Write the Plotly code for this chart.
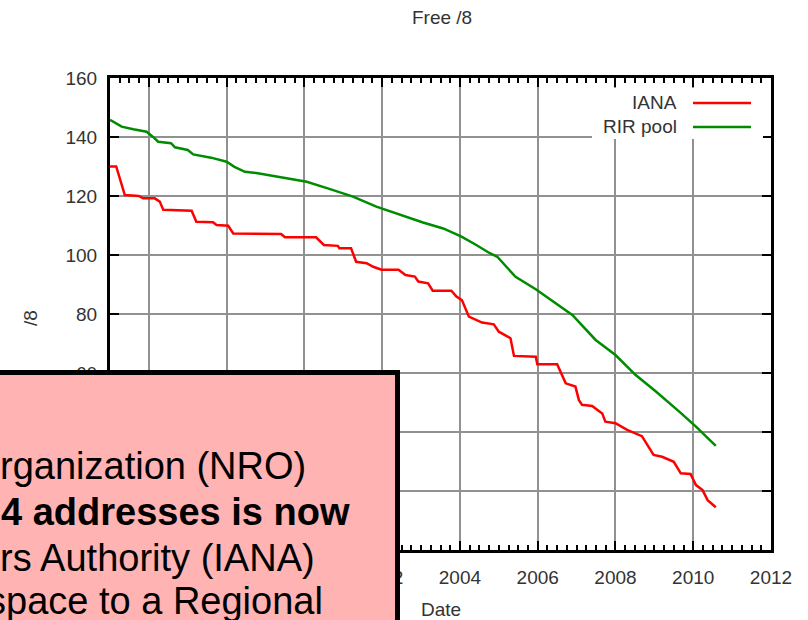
import plotly.graph_objects as go

# ---- data ----
iana_year = [1995.00, 1995.16, 1995.38, 1995.74, 1995.85, 1996.15, 1996.28, 1996.37, 1997.10, 1997.22,
             1997.65, 1997.74, 1998.04, 1998.17, 1999.40, 1999.50, 2000.30, 2000.50, 2000.86, 2000.90,
             2001.20, 2001.33, 2001.60, 2001.77, 2001.98, 2002.42, 2002.60, 2002.84, 2002.93, 2003.18,
             2003.30, 2003.78, 2003.91, 2004.05, 2004.23, 2004.57, 2004.87, 2005.00, 2005.30, 2005.39,
             2005.95, 2005.99, 2006.50, 2006.72, 2006.97, 2007.06, 2007.14, 2007.40, 2007.66, 2007.74,
             2008.00, 2008.30, 2008.68, 2008.98, 2009.20, 2009.50, 2009.68, 2009.93, 2010.07, 2010.24,
             2010.37, 2010.58]
iana_free = [130.0, 130.0, 120.3, 120.0, 119.2, 119.2, 118.1, 115.3, 115.0, 111.3,
             111.1, 110.2, 109.9, 107.3, 107.1, 106.0, 106.0, 103.4, 103.1, 102.3,
             102.3, 97.7, 97.2, 96.0, 95.0, 95.0, 93.2, 92.7, 91.0, 90.4,
             87.9, 87.9, 85.9, 84.7, 79.1, 77.1, 76.5, 74.0, 71.8, 65.8,
             65.5, 63.0, 63.0, 56.5, 55.4, 50.8, 49.2, 48.8, 46.3, 43.5,
             43.0, 40.7, 38.6, 32.2, 31.6, 29.9, 26.0, 25.8, 22.0, 20.3,
             16.9, 14.5]

rir_year = [1995.00, 1995.30, 1995.60, 1995.94, 1996.10, 1996.24, 1996.57, 1996.67, 1997.00, 1997.14,
            1997.60, 1997.80, 1998.00, 1998.20, 1998.47, 1998.80, 1999.24, 1999.67, 2000.06, 2000.60,
            2001.25, 2001.85, 2002.10, 2002.37, 2003.05, 2003.57, 2004.04, 2004.42, 2004.77, 2004.96,
            2005.43, 2005.95, 2006.59, 2006.89, 2007.49, 2008.00, 2008.52, 2009.04, 2009.64, 2010.07,
            2010.58]
rir_free = [145.8, 143.5, 142.6, 141.8, 140.1, 138.4, 137.9, 136.5, 135.6, 134.1,
            133.0, 132.2, 131.6, 129.9, 128.2, 127.7, 126.6, 125.7, 124.8, 122.6,
            119.8, 116.4, 115.3, 113.9, 111.0, 109.0, 106.2, 103.4, 100.6, 99.4,
            92.6, 88.4, 82.3, 79.7, 71.2, 66.1, 59.3, 53.7, 46.9, 41.8,
            35.3]

series_names = ["IANA", "RIR pool"]
series_colors = ["#ff0000", "#008c00"]
x_range = [1995, 2012]
y_range = [0, 160]
x_tickvals = [1996, 1998, 2000, 2002, 2004, 2006, 2008, 2010, 2012]
# labels fully hidden behind the overlay box are left blank
x_ticktext = ["", "", "", "2002", "2004", "2006", "2008", "2010", "2012"]
y_tickvals = [0, 20, 40, 60, 80, 100, 120, 140, 160]
y_ticktext = ["", "", "", "60", "80", "100", "120", "140", "160"]
chart_title = "Free /8"
x_title = "Date"
y_title = "/8"
# visible part of the overlay note
note_lines = [
    "rganization (NRO)",
    "<b>4 addresses is now</b>",
    "rs Authority (IANA)",
    "space to a Regional",
]

# ---- layout helpers (pixel -> paper) ----
W, H = 808, 620
L, R, T, B = 110, 37, 78, 70
PW, PH = W - L - R, H - T - B


def px(x):
    return (x - L) / PW


def py(y):
    return (H - B - y) / PH


FONT = "Liberation Sans, Arial, sans-serif"
tick_font = dict(family=FONT, size=19, color="#333333")

fig = go.Figure()
fig.add_trace(go.Scatter(x=iana_year, y=iana_free, mode="lines", name=series_names[0],
                         line=dict(color=series_colors[0], width=2.5), showlegend=False))
fig.add_trace(go.Scatter(x=rir_year, y=rir_free, mode="lines", name=series_names[1],
                         line=dict(color=series_colors[1], width=2.5), showlegend=False))

fig.update_xaxes(range=x_range, tickmode="array", tickvals=x_tickvals, ticktext=x_ticktext,
                 ticks="inside", ticklen=9, tickwidth=2, tickcolor="black",
                 showline=True, linewidth=3, linecolor="black", mirror="allticks",
                 showgrid=True, gridcolor="#919191", gridwidth=2, zeroline=False,
                 tickfont=tick_font, ticklabelstandoff=8,
                 minor=dict(ticks="inside", ticklen=5, tickwidth=1.5, tickcolor="black",
                            tickmode="linear", tick0=1995, dtick=0.25, showgrid=False))
fig.update_yaxes(range=y_range, tickmode="array", tickvals=y_tickvals, ticktext=y_ticktext,
                 ticks="inside", ticklen=9, tickwidth=2, tickcolor="black",
                 showline=True, linewidth=3, linecolor="black", mirror="allticks",
                 showgrid=True, gridcolor="#919191", gridwidth=2, zeroline=False,
                 tickfont=tick_font, ticklabelstandoff=6)

shapes = [
    # opaque key background
    dict(type="rect", xref="paper", yref="paper", x0=px(592), x1=px(763), y0=py(139), y1=py(88),
         fillcolor="white", line=dict(width=0), layer="above"),
    dict(type="line", xref="paper", yref="paper", x0=px(693), x1=px(751), y0=py(103), y1=py(103),
         line=dict(color=series_colors[0], width=2.5), layer="above"),
    dict(type="line", xref="paper", yref="paper", x0=px(693), x1=px(751), y0=py(127), y1=py(127),
         line=dict(color=series_colors[1], width=2.5), layer="above"),
    # pink overlay box
    dict(type="rect", xref="paper", yref="paper", x0=px(-30), x1=px(397.5), y0=py(650), y1=py(372.5),
         fillcolor="#ffb3b3", line=dict(color="black", width=5), layer="above"),
]

annotations = [
    dict(text=chart_title, x=px(442), y=py(17), xref="paper", yref="paper", showarrow=False,
         xanchor="center", yanchor="middle", font=tick_font),
    dict(text=x_title, x=px(441), y=py(609), xref="paper", yref="paper", showarrow=False,
         xanchor="center", yanchor="middle", font=tick_font),
    dict(text=y_title, x=px(30), y=py(318), xref="paper", yref="paper", showarrow=False,
         xanchor="center", yanchor="middle", textangle=-90, font=tick_font),
    dict(text=series_names[0], x=px(679), y=py(103), xref="paper", yref="paper", showarrow=False,
         xanchor="right", yanchor="middle", font=tick_font),
    dict(text=series_names[1], x=px(679), y=py(127), xref="paper", yref="paper", showarrow=False,
         xanchor="right", yanchor="middle", font=tick_font),
]

note_right = [308, 352, 317, 325]
note_mid = [466, 512, 558, 601]
for txt, xr, ym in zip(note_lines, note_right, note_mid):
    annotations.append(dict(text=txt, x=px(xr), y=py(ym), xref="paper", yref="paper", showarrow=False,
                            xanchor="right", yanchor="middle",
                            font=dict(family=FONT, size=38, color="black")))

fig.update_layout(width=W, height=H, margin=dict(l=L, r=R, t=T, b=B, autoexpand=False),
                  paper_bgcolor="white", plot_bgcolor="white", showlegend=False,
                  shapes=shapes, annotations=annotations)

fig.write_html("out.html", config={"displayModeBar": False},
               post_script="document.body.style.margin='0';document.body.style.overflow='hidden';")
